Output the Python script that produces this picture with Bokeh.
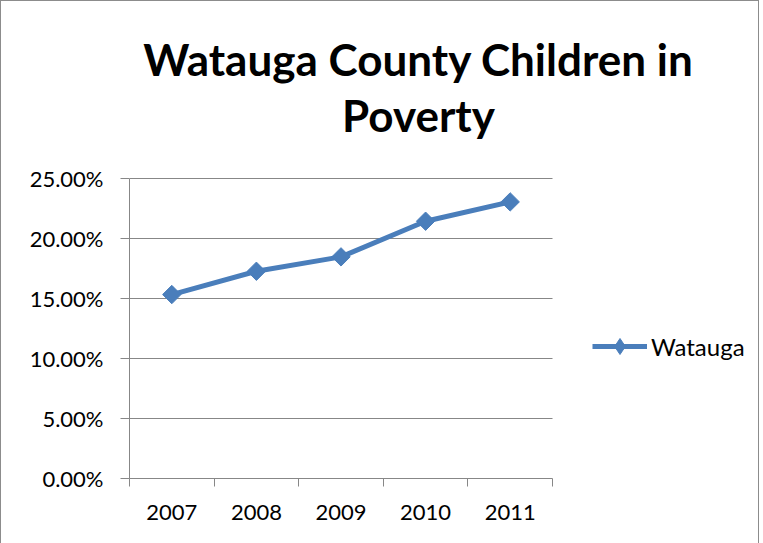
import numpy as np
from bokeh.plotting import figure
from bokeh.models import (Range1d, FixedTicker, NumeralTickFormatter, Label, Legend, LegendItem,
                          ColumnDataSource, Grid)
from bokeh.embed import file_html
from bokeh.resources import INLINE

years = ["2007", "2008", "2009", "2010", "2011"]
poverty = [0.1533, 0.1727, 0.1847, 0.2144, 0.2305]
series_name = "Watauga"
title_lines = ["Watauga County Children in", "Poverty"]
y_ticks = [0.0, 0.05, 0.10, 0.15, 0.20, 0.25]

BLUE = "#4A7EBB"
GRID = "#878787"
FONT = "Lato"

# geometry (pixels)
LEFT, TOP, BOTTOM = 128, 10, 66
W, H = 759, 543
AXIS_W, AXIS_H = 423, 300          # pixel size of the real chart area
FRAME_W = 620
FRAME_H = H - TOP - BOTTOM
n = len(years)
y_max = 0.25
x_end = n * FRAME_W / AXIS_W
y_end = y_max * FRAME_H / AXIS_H

xpos = [i + 0.5 for i in range(n)]
src = ColumnDataSource(dict(x=xpos, y=poverty, year=years))

p = figure(width=W, height=H, output_backend="svg", toolbar_location=None,
           x_range=Range1d(0, x_end), y_range=Range1d(0, y_end),
           min_border_left=LEFT, min_border_right=W - LEFT - FRAME_W,
           min_border_top=TOP, min_border_bottom=BOTTOM,
           styles={"border-left": "1px solid #8c8c8c", "border-top": "1px solid #8c8c8c",
                   "border-right": "1px solid #8c8c8c"})
p.outline_line_color = None
p.background_fill_color = "white"
p.border_fill_color = "white"

# x axis: labels at category centres, ticks at boundaries
xa = p.xaxis[0]
xa.bounds = (0, n)
xa.ticker = FixedTicker(ticks=xpos, minor_ticks=list(range(n + 1)))
xa.major_label_overrides = {x: y for x, y in zip(xpos, years)}
xa.major_tick_line_color = None
xa.major_tick_out = 8
xa.major_tick_in = 0
xa.minor_tick_line_color = GRID
xa.minor_tick_out = 8
xa.minor_tick_in = 0
xa.axis_line_color = GRID
xa.major_label_standoff = 18
xa.major_label_text_font = FONT
xa.major_label_text_font_size = "22px"
xa.major_label_text_color = "black"
p.xgrid.grid_line_color = None

ya = p.yaxis[0]
ya.bounds = (0, y_max)
ya.ticker = FixedTicker(ticks=y_ticks)
ya.formatter = NumeralTickFormatter(format="0.00%")
ya.major_tick_line_color = GRID
ya.major_tick_out = 9
ya.major_tick_in = 0
ya.minor_tick_line_color = None
ya.axis_line_color = GRID
ya.major_label_standoff = 17
ya.major_label_text_font = FONT
ya.major_label_text_font_size = "22px"
ya.major_label_text_color = "black"

if "cross_bounds" in Grid.properties():
    p.ygrid.grid_line_color = GRID
    p.ygrid.grid_line_width = 1
    p.ygrid.cross_bounds = (0, n)
else:
    p.ygrid.grid_line_color = None
    p.segment(x0=[0] * len(y_ticks), x1=[n] * len(y_ticks), y0=y_ticks, y1=y_ticks,
              line_color=GRID, line_width=1)

ln = p.line("x", "y", source=src, line_color=BLUE, line_width=5)
mk = p.scatter("x", "y", source=src, marker="square", angle=np.pi / 4, size=13,
               fill_color=BLUE, line_color=BLUE)
# legend-only diamond marker (a single undrawn NaN point)
leg_mk = p.scatter(x=[np.nan], y=[np.nan], marker="diamond", fill_color=BLUE, line_color=BLUE)

legend = Legend(items=[LegendItem(label=series_name, renderers=[ln, leg_mk])],
                location=(463, 112), glyph_width=55, glyph_height=40, label_standoff=4,
                padding=0, margin=0, spacing=0, border_line_color=None,
                background_fill_alpha=0, label_text_font=FONT, label_text_font_size="24px",
                label_text_color="black")
p.add_layout(legend, "center")

for txt, yy in zip(title_lines, [420, 364]):
    p.add_layout(Label(x=289, y=yy, x_units="screen", y_units="screen", text=txt,
                       text_align="center", text_baseline="middle", text_font=FONT,
                       text_font_style="bold", text_font_size="44px", text_color="black"))

open("out.html", "w").write(file_html(p, INLINE))
